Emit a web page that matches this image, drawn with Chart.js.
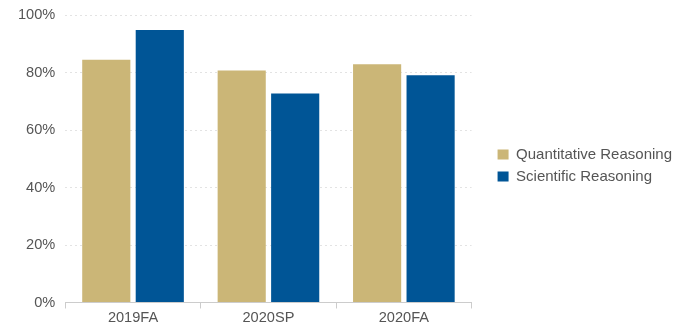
<!DOCTYPE html>
<html>
<head>
<meta charset="utf-8">
<script src="https://cdn.jsdelivr.net/npm/chart.js@4.4.1/dist/chart.umd.min.js"></script>
<style>
  html, body { margin: 0; padding: 0; background: #fff; }
  #wrap { width: 673px; height: 326px; }
</style>
</head>
<body>
<div id="wrap"><canvas id="chart"></canvas></div>
<script>
/* Data */
const terms = ["2019FA", "2020SP", "2020FA"];
const quantitative = [84.5, 80.7, 82.9];
const scientific = [94.8, 72.7, 79.1];
const seriesNames = ["Quantitative Reasoning", "Scientific Reasoning"];
const yTicks = [0, 20, 40, 60, 80, 100];

const gold = "#cbb677";
const blue = "#005596";
const textColor = "#555";

Chart.defaults.font.family = "'Liberation Sans', Arial, sans-serif";
Chart.defaults.font.size = 14.6;
Chart.defaults.color = textColor;

new Chart(document.getElementById("chart"), {
  type: "bar",
  data: {
    labels: terms,
    datasets: [
      { label: seriesNames[0], data: quantitative, backgroundColor: gold },
      { label: seriesNames[1], data: scientific, backgroundColor: blue }
    ]
  },
  options: {
    responsive: true,
    maintainAspectRatio: false,
    animation: false,
    categoryPercentage: 0.79,
    barPercentage: 0.9,
    layout: { padding: { top: 3, left: 8, right: -9, bottom: -2 } },
    plugins: {
      tooltip: { enabled: false },
      legend: {
        position: "right",
        maxWidth: 300,
        labels: {
          boxWidth: 11,
          boxHeight: 10,
          padding: 7,
          color: textColor,
          font: { size: 15 }
        }
      }
    },
    scales: {
      x: {
        grid: {
          drawOnChartArea: false,
          color: "#cccccc",
          tickLength: 6
        },
        border: { color: "#cccccc" },
        ticks: { padding: 1 }
      },
      y: {
        min: 0,
        max: 100,
        afterBuildTicks: axis => {
          axis.ticks = yTicks.map(v => ({ value: v }));
        },
        ticks: {
          padding: 10,
          font: { lineHeight: 0.7 },
          callback: v => v + "%"
        },
        grid: {
          drawTicks: false,
          color: "#e3e3e3"
        },
        border: { display: false, dash: [2, 3] }
      },
      /* empty spacer between plot and legend */
      gap: {
        position: "right",
        display: true,
        grid: { display: false },
        ticks: { display: false },
        border: { display: false },
        afterFit: axis => { axis.width = 19; }
      }
    }
  }
});
</script>
</body>
</html>
